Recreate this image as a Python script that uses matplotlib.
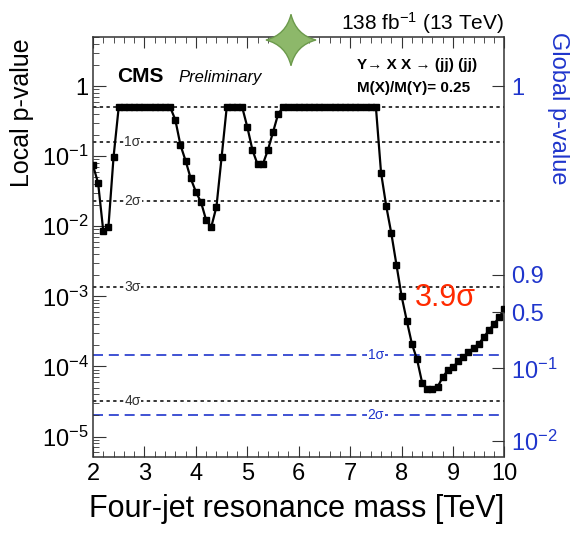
import matplotlib
matplotlib.use('Agg')
import matplotlib.pyplot as plt
from matplotlib.path import Path
from matplotlib.patches import PathPatch
from matplotlib.ticker import MultipleLocator, LogLocator, NullLocator, FixedLocator, NullFormatter

plt.rcParams['font.family'] = ['Liberation Sans', 'DejaVu Sans']
plt.rcParams['mathtext.fontset'] = 'custom'
plt.rcParams['mathtext.rm'] = 'Liberation Sans'
plt.rcParams['mathtext.it'] = 'Liberation Sans:italic'
plt.rcParams['mathtext.bf'] = 'Liberation Sans:bold'

# local p-value scan
mass = [2.0, 2.1, 2.2, 2.3, 2.4, 2.5, 2.6, 2.7, 2.8, 2.9,
        3.0, 3.1, 3.2, 3.3, 3.4, 3.5, 3.6, 3.7, 3.8, 3.9,
        4.0, 4.1, 4.2, 4.3, 4.4, 4.5, 4.6, 4.7, 4.8, 4.9,
        5.0, 5.1, 5.2, 5.3, 5.4, 5.5, 5.6, 5.7, 5.8, 5.9,
        6.0, 6.1, 6.2, 6.3, 6.4, 6.5, 6.6, 6.7, 6.8, 6.9,
        7.0, 7.1, 7.2, 7.3, 7.4, 7.5, 7.6, 7.7, 7.8, 7.9,
        8.0, 8.1, 8.2, 8.3, 8.4, 8.5, 8.6, 8.7, 8.8, 8.9,
        9.0, 9.1, 9.2, 9.3, 9.4, 9.5, 9.6, 9.7, 9.8, 9.9, 10.0]
local_p = [0.074, 0.041, 0.0085, 0.0098, 0.098, 0.5, 0.5, 0.5, 0.5, 0.5,
           0.5, 0.5, 0.5, 0.5, 0.5, 0.5, 0.33, 0.144, 0.086, 0.048,
           0.031, 0.022, 0.0122, 0.0098, 0.019, 0.096, 0.5, 0.5, 0.5, 0.5,
           0.26, 0.122, 0.076, 0.076, 0.122, 0.22, 0.40, 0.5, 0.5, 0.5,
           0.5, 0.5, 0.5, 0.5, 0.5, 0.5, 0.5, 0.5, 0.5, 0.5,
           0.5, 0.5, 0.5, 0.5, 0.5, 0.5, 0.058, 0.0195, 0.0079, 0.0028,
           1.0e-3, 4.5e-4, 2.1e-4, 1.26e-4, 5.8e-5, 4.7e-5, 4.7e-5, 5.1e-5, 7.1e-5, 8.8e-5,
           9.8e-5, 1.18e-4, 1.36e-4, 1.6e-4, 1.85e-4, 2.1e-4, 2.63e-4, 3.3e-4, 4.07e-4, 5.06e-4, 6.67e-4]

local_sigma_p = [0.5, 0.1587, 0.02275, 0.00135, 3.17e-5]
local_sigma_labels = ['', '1σ', '2σ', '3σ', '4σ']
global_sigma_p = [1.48e-4, 2.0e-5]
global_sigma_labels = ['1σ', '2σ']

left_ticks = [1, 1e-1, 1e-2, 1e-3, 1e-4, 1e-5]
left_labels = ['1', r'$10^{-1}$', r'$10^{-2}$', r'$10^{-3}$', r'$10^{-4}$', r'$10^{-5}$']
# global p-value axis: positions given in local p-value units
global_tick_pos = [1.0, 2.04e-3, 5.97e-4, 9.36e-5, 8.57e-6]
global_tick_labels = ['1', '0.9', '0.5', r'$10^{-1}$', r'$10^{-2}$']

W, H = 577, 533
BLUE = '#1f35cc'
FRAME = '#333333'


def fx(px):
    return px / W


def fy(py):
    return 1 - py / H


fig = plt.figure(figsize=(W / 100, H / 100), dpi=100)
ax = fig.add_axes([fx(93), fy(456.5), fx(504.5) - fx(93), fy(37) - fy(456.5)])

ax.set_yscale('log')
ax.set_xlim(2, 10)
ax.set_ylim(5.2e-6, 5.0)

# sigma reference lines
for p, lab in zip(local_sigma_p, local_sigma_labels):
    ax.axhline(p, color='black', lw=1.1, ls=(0, (2.2, 2.2)), zorder=1)
    if lab:
        ax.text(2.77, p, lab, fontsize=10, color='#333333', ha='center', va='center',
                bbox=dict(facecolor='white', edgecolor='none', pad=0.5), zorder=2)
for p, lab in zip(global_sigma_p, global_sigma_labels):
    ax.axhline(p, color=BLUE, lw=1.2, ls=(0, (6, 3.5)), zorder=1)
    ax.text(7.5, p, lab, fontsize=10, color=BLUE, ha='center', va='center',
            bbox=dict(facecolor='white', edgecolor='none', pad=0.5), zorder=2)

ax.plot(mass, local_p, color='black', lw=1.6, marker='s', ms=3.8, zorder=3)

for s in ax.spines.values():
    s.set_color(FRAME)
    s.set_linewidth(1.1)

ax.xaxis.set_major_locator(MultipleLocator(1))
ax.xaxis.set_minor_locator(MultipleLocator(0.2))
ax.set_yticks(left_ticks, left_labels)
ax.yaxis.set_minor_locator(LogLocator(base=10, subs=range(2, 10), numticks=20))
ax.yaxis.set_minor_formatter(NullFormatter())
ax.tick_params(axis='x', which='both', direction='in', top=True, bottom=True,
               labelsize=17, pad=5, color=FRAME)
ax.tick_params(axis='x', which='major', length=8)
ax.tick_params(axis='x', which='minor', length=4)
ax.tick_params(axis='y', which='both', direction='in', left=True, right=False,
               labelsize=17, pad=3, color=FRAME)
ax.tick_params(axis='y', which='major', length=9)
ax.tick_params(axis='y', which='minor', length=4.5)

ax2 = ax.twinx()
ax2.set_yscale('log')
ax2.set_ylim(ax.get_ylim())
ax2.yaxis.set_major_locator(FixedLocator(global_tick_pos))
ax2.set_yticklabels(global_tick_labels)
ax2.yaxis.set_minor_locator(NullLocator())
ax2.tick_params(axis='y', direction='in', length=9, labelsize=17, pad=5,
                color=FRAME, labelcolor=BLUE)
for s in ax2.spines.values():
    s.set_visible(False)

# labels and annotations
fig.text(fx(22), fy(38), 'Local p-value', rotation=90, ha='center', va='top', fontsize=18)
fig.text(fx(558), fy(32), 'Global p-value', rotation=270, ha='center', va='top',
         fontsize=17, color=BLUE)
fig.text(fx(504.5), fy(517), 'Four-jet resonance mass [TeV]', ha='right', va='baseline',
         fontsize=22)
fig.text(fx(504.5), fy(30), r'138 fb$^{-1}$ (13 TeV)', ha='right', va='baseline', fontsize=15)
fig.text(fx(117), fy(82), 'CMS', fontsize=15, fontweight='bold', va='baseline')
fig.text(fx(178), fy(82), 'Preliminary', fontsize=12, style='italic', va='baseline')
fig.text(fx(357), fy(69), 'Y→ X X → (jj) (jj)', fontsize=11, fontweight='bold', va='baseline')
fig.text(fx(357), fy(92), 'M(X)/M(Y)= 0.25', fontsize=11, fontweight='bold', va='baseline')
fig.text(fx(415), fy(306), '3.9σ', fontsize=22, color='#ff2a00', va='baseline')

# green four-point star on the top frame
cx, cy, rx, ry, c = fx(291), fy(40), fx(25), 25.5 / H, 0.2
tips = [(cx, cy + ry), (cx + rx, cy), (cx, cy - ry), (cx - rx, cy)]
ctrl = [(cx + c * rx, cy + c * ry), (cx + c * rx, cy - c * ry),
        (cx - c * rx, cy - c * ry), (cx - c * rx, cy + c * ry)]
verts = [tips[0]]
codes = [Path.MOVETO]
for i in range(4):
    verts += [ctrl[i], tips[(i + 1) % 4]]
    codes += [Path.CURVE3, Path.CURVE3]
verts.append(tips[0])
codes.append(Path.CLOSEPOLY)
star = PathPatch(Path(verts, codes), transform=fig.transFigure, facecolor='#8db86a',
                 edgecolor='#6c9a4c', lw=1.0, zorder=10)
fig.add_artist(star)

fig.savefig('out.png', dpi=100)
